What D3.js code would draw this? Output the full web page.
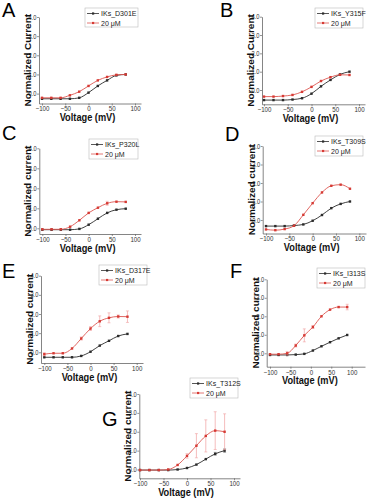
<!DOCTYPE html>
<html><head><meta charset="utf-8">
<script src="https://cdn.jsdelivr.net/npm/d3@7"></script>
<style>body{margin:0;background:#fff}svg{display:block}</style>
</head><body><svg id="c" width="381" height="500"></svg>
<script>
// ---- data ----
const voltages  = [-100,-80,-60,-40,-20,0,20,40,60,80];
const voltagesF = [-100,-79,-58,-37,-16,5,26,47,68,89];
const xTicks = [-100,-50,0,50,100];
const yTicks = [0,1,2,3,4];
const drugLabel = "20 μM";

const ctrlA = [-0.27,-0.27,-0.27,-0.27,-0.22,0.05,0.40,0.69,0.95,1.00];
const drugA = [-0.22,-0.22,-0.22,-0.09,0.10,0.40,0.69,0.87,0.98,1.00];
const ctrlB = [-0.55,-0.55,-0.55,-0.52,-0.45,-0.20,0.20,0.55,0.85,1.00];
const drugB = [-0.36,-0.36,-0.33,-0.27,-0.10,0.17,0.49,0.70,0.83,0.82];
const ctrlC = [-0.07,-0.07,-0.07,-0.07,-0.03,0.18,0.48,0.77,0.93,0.98];
const drugC = [-0.05,-0.05,-0.05,0.08,0.40,0.77,1.03,1.25,1.33,1.32];
const errC  = [0,0,0,0.03,0.05,0.05,0.05,0.10,0.05,0.05];
const ctrlD = [-0.33,-0.33,-0.33,-0.30,-0.24,-0.04,0.27,0.64,0.87,1.00];
const drugD = [-0.51,-0.55,-0.49,-0.31,0.28,0.91,1.49,1.85,1.91,1.69];
const ctrlE = [-0.26,-0.26,-0.26,-0.26,-0.19,0.03,0.35,0.60,0.85,0.96];
const drugE = [-0.10,-0.05,-0.05,0.20,0.72,1.24,1.62,1.80,1.87,1.86];
const errE  = [0.08,0.05,0.05,0.05,0.08,0.10,0.28,0.26,0.08,0.30];
const ctrlF = [-0.09,-0.09,-0.09,-0.07,-0.03,0.15,0.38,0.60,0.81,0.99];
const drugF = [-0.05,-0.05,0.00,0.42,0.97,1.42,2.00,2.36,2.50,2.50];
const errF  = [0.05,0.03,0.10,0.08,0.35,0.08,0.05,0.05,0.05,0.15];
const ctrlG = [-0.03,-0.03,-0.03,-0.03,0.00,0.08,0.26,0.55,0.83,1.00];
const errGc = [0,0,0,0,0,0.02,0.04,0.05,0.08,0.10];
const drugG = [-0.03,-0.03,-0.03,0.00,0.24,0.72,1.26,1.78,2.06,2.00];
const errG  = [0,0,0,0.02,0.05,0.12,0.64,0.85,1.00,0.95];

// ---- panels (layout) ----
const panels = [
 {letter:"A", lx:2,   ly:17,  name:"IKs_D301E", yl:"Normalized Current", xs:voltages,  c:ctrlA, d:drugA, ec:null, ed:null,
  ax:39,    xa:42,    xb:135,   xe:141, y0:93.6,  y4:17,    yb:103.5, lg:[85,8,53,19]},
 {letter:"B", lx:220, ly:17,  name:"IKs_Y315F", yl:"Normalized Current", xs:voltages,  c:ctrlB, d:drugB, ec:null, ed:null,
  ax:262,   xa:264,   xb:359,   xe:365, y0:90,    y4:16.7,  yb:104.3, lg:[315,8,48,20]},
 {letter:"C", lx:2,   ly:140, name:"IKs_P320L", yl:"Normalized current", xs:voltages,  c:ctrlC, d:drugC, ec:null, ed:errC,
  ax:39.3,  xa:42.3,  xb:135,   xe:141, y0:228.3, y4:148.3, yb:234,   lg:[89,139,49,20]},
 {letter:"D", lx:225, ly:141, name:"IKs_T309S", yl:"Normalized current", xs:voltages,  c:ctrlD, d:drugD, ec:null, ed:null,
  ax:262.7, xa:266,   xb:359.3, xe:366, y0:220,   y4:146,   yb:233.5, lg:[315,136,48,20]},
 {letter:"E", lx:2,   ly:278, name:"IKs_D317E", yl:"Normalized current", xs:voltages,  c:ctrlE, d:drugE, ec:null, ed:errE,
  ax:41,    xa:44.3,  xb:136.7, xe:143, y0:352.3, y4:275.7, yb:363,   lg:[99,265,48,20]},
 {letter:"F", lx:230, ly:278, name:"IKs_I313S", yl:"Normalized current", xs:voltagesF, c:ctrlF, d:drugF, ec:null, ed:errF,
  ax:266.7, xa:270,   xb:351.7, xe:365, y0:353.3, y4:279.3, yb:366.7, lg:[317,268,48,20]},
 {letter:"G", lx:102, ly:426, name:"IKs_T312S", yl:"Normalized current", xs:voltages,  c:ctrlG, d:drugG, ec:errGc, ed:errG,
  ax:139.3, xa:140,   xb:234,   xe:240, y0:469.5, y4:394,   yb:478.3, lg:[190,378,48,20]}
];

const FONT = "'Liberation Sans', Arial, sans-serif";
const SX = 0.88;
const BLACK = "#2b2b2b", RED = "#d63a34", REDLINE = "#dd5650", REDERR = "#f0a0a0";
const svg = d3.select("#c");

panels.forEach(p => {
  const g = svg.append("g");
  const x0 = d3.scaleLinear().domain([-100,100]).range([p.xa,p.xb]);
  const x = d3.scaleLinear().domain([x0.invert(p.ax), x0.invert(p.xe)]).range([p.ax,p.xe]);
  const yy = d3.scaleLinear().domain([0,4]).range([p.y0,p.y4]);
  const y = d3.scaleLinear().domain([yy.invert(p.yb), 4]).range([p.yb,p.y4]);

  g.append("text").attr("x",p.lx).attr("y",p.ly).attr("font-family",FONT).attr("font-size",20)
   .attr("fill","#000").text(p.letter);

  const xAxis = d3.axisBottom(x).tickValues(xTicks).tickSize(2).tickPadding(1).tickSizeOuter(0);
  const yAxis = d3.axisLeft(y).tickValues(yTicks).tickSize(2).tickPadding(1).tickSizeOuter(0);
  const gx = g.append("g").attr("transform",`translate(0,${p.yb})`).call(xAxis);
  const gy = g.append("g").attr("transform",`translate(${p.ax},0)`).call(yAxis);
  [gx,gy].forEach(a => {
    a.select(".domain").attr("stroke","#666").attr("stroke-width",0.8);
    a.selectAll(".tick line").attr("stroke","#666").attr("stroke-width",0.7);
    a.selectAll(".tick text").attr("font-family",FONT).attr("font-size",7).attr("fill","#333");
  });
  gx.selectAll(".tick text").attr("transform",`scale(${SX},1)`);
  gy.selectAll(".tick text").attr("font-size",6.5).attr("transform",`scale(${SX},1)`);

  g.append("text").attr("transform",`translate(${x(0)-1},${p.yb+17.5}) scale(${SX},1)`)
   .attr("text-anchor","middle").attr("font-family",FONT).attr("font-size",10.5).attr("font-weight","bold")
   .attr("fill","#111").text("Voltage (mV)");
  g.append("text").attr("transform",`translate(${p.ax-8},${(p.y4+p.yb)/2}) scale(${SX},1) rotate(-90)`)
   .attr("text-anchor","middle").attr("font-family",FONT).attr("font-size",10).attr("font-weight","bold")
   .attr("fill","#111").text(p.yl);

  const series = [
    {vals:p.c, err:p.ec, line:BLACK, mk:BLACK, ec:"#888"},
    {vals:p.d, err:p.ed, line:REDLINE, mk:RED, ec:REDERR}
  ];
  series.forEach(s => {
    const pts = p.xs.map((v,i) => ({v, y:s.vals[i], e: s.err ? s.err[i] : 0}));
    const eg = g.append("g");
    pts.filter(d => d.e > 0.06).forEach(d => {
      eg.append("line").attr("x1",x(d.v)).attr("x2",x(d.v)).attr("y1",y(d.y-d.e)).attr("y2",y(d.y+d.e))
        .attr("stroke",s.ec).attr("stroke-width",0.7);
      [d.y-d.e, d.y+d.e].forEach(t => eg.append("line").attr("x1",x(d.v)-1.5).attr("x2",x(d.v)+1.5)
        .attr("y1",y(t)).attr("y2",y(t)).attr("stroke",s.ec).attr("stroke-width",0.6));
    });
    g.append("path").datum(pts)
      .attr("d", d3.line().x(d => x(d.v)).y(d => y(d.y)).curve(d3.curveMonotoneX))
      .attr("fill","none").attr("stroke",s.line).attr("stroke-width",0.9);
    g.append("g").selectAll("rect").data(pts).join("rect")
      .attr("x",d => x(d.v)-1.2).attr("y",d => y(d.y)-1.2).attr("width",2.4).attr("height",2.4)
      .attr("fill",s.mk);
  });

  const [lx,ly,lw,lh] = p.lg;
  const lg = g.append("g");
  lg.append("rect").attr("x",lx).attr("y",ly).attr("width",lw).attr("height",lh)
    .attr("fill","#fff").attr("stroke","#bbb").attr("stroke-width",0.6);
  [{t:p.name, c:BLACK, m:BLACK},{t:drugLabel, c:REDLINE, m:RED}].forEach((e,i) => {
    const cy = ly + 5.5 + i*9.5;
    lg.append("line").attr("x1",lx+2).attr("x2",lx+14).attr("y1",cy).attr("y2",cy)
      .attr("stroke",e.c).attr("stroke-width",0.8);
    lg.append("rect").attr("x",lx+7).attr("y",cy-1.1).attr("width",2.2).attr("height",2.2).attr("fill",e.m);
    lg.append("text").attr("transform",`translate(${lx+16},${cy+2.8}) scale(${SX},1)`)
      .attr("font-family",FONT).attr("font-size",8).attr("fill","#222").text(e.t);
  });
});
</script></body></html>
